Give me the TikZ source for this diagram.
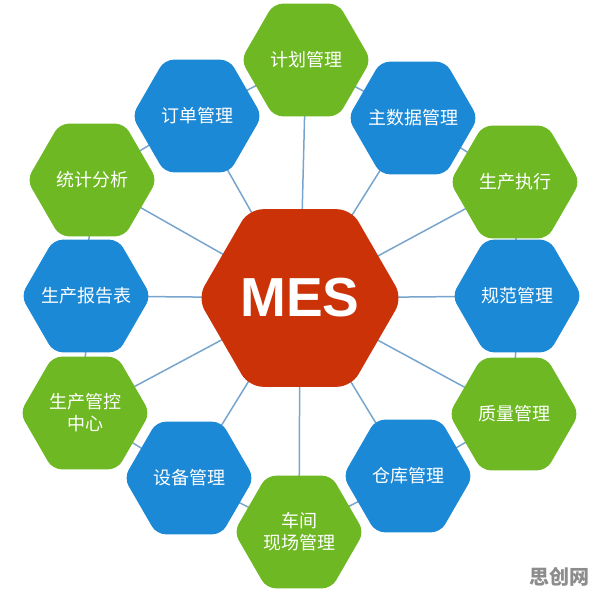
\documentclass[tikz,border=0pt]{standalone}
\usepackage{fontspec}
\setmainfont{Liberation Sans}
\newfontfamily\cjk{Noto Sans CJK SC}
\usetikzlibrary{shapes.geometric, backgrounds}

\begin{document}
\begin{tikzpicture}[x=1pt, y=-1pt, font=\cjk\fontsize{18}{22}\selectfont]

	% Define colors
	\definecolor{hexGreen}{RGB}{110,185,35}
	\definecolor{hexBlue}{RGB}{28,137,214}
	\definecolor{hexRed}{RGB}{204,50,8}
	\definecolor{linkBlue}{RGB}{120,165,205}
	\definecolor{markGray}{RGB}{140,140,140}

	\def\D{130} % Diameter of the small hexagons
	\def\B{205} % Diameter of the big hexagon

	\tikzset{
		hexa/.style={regular polygon, regular polygon sides=6, minimum size=\D pt, inner xsep=-25pt, inner ysep=0pt, rounded corners=9pt, text=white, align=center},
		greenhex/.style={hexa, fill=hexGreen},
		bluehex/.style={hexa, fill=hexBlue},
		link/.style={draw=linkBlue, line width=1.5pt}
	}

	% Fix the page size
	\useasboundingbox (0,0) rectangle (596,596);

	% Big hexagon in the middle
	\node[hexa, fill=hexRed, minimum size=\B pt, rounded corners=14pt, font=\bfseries\fontsize{55}{55}\selectfont] (mes) at (300,298) {MES};

	% Ring of small hexagons, clockwise from the top
	\node[greenhex] (plan) at (306,60) {计划管理};
	\node[bluehex] (master) at (413,118) {主数据管理};
	\node[greenhex] (exec) at (515,182) {生产执行};
	\node[bluehex] (norm) at (517,296) {规范管理};
	\node[greenhex] (quality) at (514,414) {质量管理};
	\node[bluehex] (store) at (408,476) {仓库管理};
	\node[greenhex] (shop) at (299,532) {车间\\现场管理};
	\node[bluehex] (equip) at (189,478) {设备管理};
	\node[greenhex] (control) at (85,413) {生产管控\\中心};
	\node[bluehex] (report) at (86,296) {生产报告表};
	\node[greenhex] (stats) at (92,180) {统计分析};
	\node[bluehex] (order) at (197,116) {订单管理};

	% Links behind the hexagons
	\begin{pgfonlayer}{background}
		\foreach \a/\b in {plan/master, master/exec, exec/norm, norm/quality, quality/store, store/shop, shop/equip, equip/control, control/report, report/stats, stats/order, order/plan}
		{
			\draw[link] (mes.center) -- (\a.center);
			\draw[link] (\a.center) -- (\b.center);
		}
	\end{pgfonlayer}

	% Watermark
	\node[text=markGray, font=\cjk\bfseries\fontsize{20}{20}\selectfont] (mark) at (559,577) {思创网};

\end{tikzpicture}
\end{document}
